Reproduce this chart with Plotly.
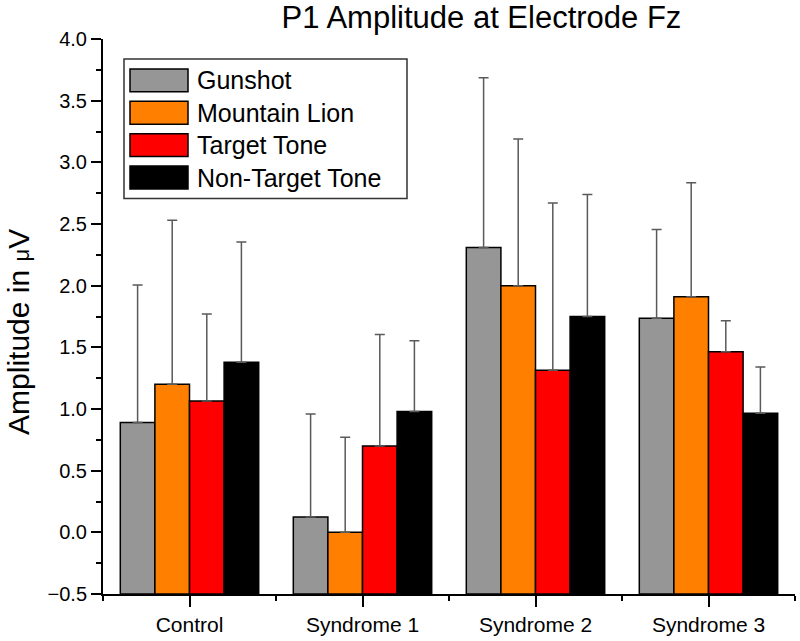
import plotly.graph_objects as go

# ---------------- data ----------------
categories = ["Control", "Syndrome 1", "Syndrome 2", "Syndrome 3"]
series_names = ["Gunshot", "Mountain Lion", "Target Tone", "Non-Target Tone"]
series_colors = ["#969696", "#FF8000", "#FF0000", "#000000"]

gunshot = [0.89, 0.125, 2.31, 1.735]
gunshot_err = [1.115, 0.835, 1.375, 0.72]
mountain_lion = [1.20, 0.0, 2.00, 1.91]
mountain_lion_err = [1.33, 0.77, 1.19, 0.925]
target_tone = [1.065, 0.70, 1.315, 1.465]
target_tone_err = [0.705, 0.905, 1.355, 0.25]
non_target_tone = [1.38, 0.98, 1.75, 0.965]
non_target_tone_err = [0.975, 0.573, 0.99, 0.376]

y_ticks = [-0.5, 0.0, 0.5, 1.0, 1.5, 2.0, 2.5, 3.0, 3.5, 4.0]

values = [gunshot, mountain_lion, target_tone, non_target_tone]
errors = [gunshot_err, mountain_lion_err, target_tone_err, non_target_tone_err]

BASE = y_ticks[0]  # bars rise from the bottom of the axis

# ---------------- layout constants ----------------
W, H = 800, 641
ML, MR, MT, MB = 103, 5, 39, 45
PW, PH = W - ML - MR, H - MT - MB
FONT = "Liberation Sans, Arial, Helvetica, sans-serif"


def px_x(px):
    """page pixel x -> paper x"""
    return (px - ML) / PW


def px_y(py):
    """page pixel y -> paper y"""
    return (H - MB - py) / PH


xs = list(range(len(categories)))

fig = go.Figure()
for name, color, vals, errs in zip(series_names, series_colors, values, errors):
    fig.add_trace(go.Bar(
        name=name,
        x=xs,
        y=[v - BASE for v in vals],
        base=BASE,
        marker=dict(color=color, line=dict(color="#000000", width=1.5)),
        error_y=dict(type="data", symmetric=False, array=errs,
                     arrayminus=[0] * len(errs),
                     color="#5a5a5a", thickness=1.5, width=5),
        showlegend=False,
    ))

# ---- custom legend (large swatches like the original) ----
shapes = []
annotations = []
box_l, box_r, box_t, box_b = 124, 407, 59, 199
shapes.append(dict(type="rect", xref="paper", yref="paper",
                   x0=px_x(box_l), x1=px_x(box_r), y0=px_y(box_b), y1=px_y(box_t),
                   line=dict(color="#333333", width=1.5), fillcolor="white", layer="above"))
row0, pitch = 80.5, 32.5
for i, (name, color) in enumerate(zip(series_names, series_colors)):
    cy = row0 + i * pitch
    shapes.append(dict(type="rect", xref="paper", yref="paper",
                       x0=px_x(130), x1=px_x(188), y0=px_y(cy + 11.5), y1=px_y(cy - 11.5),
                       line=dict(color="#000000", width=1.5), fillcolor=color, layer="above"))
    annotations.append(dict(text=name, xref="paper", yref="paper",
                            x=px_x(195), y=px_y(cy), xanchor="left", yanchor="middle",
                            showarrow=False, font=dict(family=FONT, size=25, color="#000000")))

# y-axis title
annotations.append(dict(text="Amplitude in <span style='font-size:22px'>μ</span>V",
                        xref="paper", yref="paper",
                        x=px_x(19), y=px_y(333), xanchor="center", yanchor="middle",
                        textangle=-90, showarrow=False,
                        font=dict(family=FONT, size=30, color="#000000")))

fig.update_layout(
    width=W, height=H,
    margin=dict(l=ML, r=MR, t=MT, b=MB),
    paper_bgcolor="white", plot_bgcolor="white",
    barmode="group", bargap=0.2, bargroupgap=0,
    font=dict(family=FONT, color="#000000"),
    title=dict(text="P1 Amplitude at Electrode Fz", x=481.5 / W, xanchor="center",
               xref="container", yref="container", y=1 - 17 / H, yanchor="middle",
               font=dict(family=FONT, size=31, color="#000000")),
    shapes=shapes,
    annotations=annotations,
    xaxis=dict(
        range=[-0.5, len(categories) - 0.5],
        tickmode="array", tickvals=xs, ticktext=categories,
        ticks="outside", ticklen=11, tickwidth=1.5, tickcolor="#000000",
        minor=dict(tickmode="linear", tick0=-0.5, dtick=1, ticks="outside",
                   ticklen=5, tickwidth=1.5, tickcolor="#000000"),
        showline=True, linecolor="#000000", linewidth=2,
        showgrid=False, zeroline=False,
        tickfont=dict(family=FONT, size=21, color="#000000"),
    ),
    yaxis=dict(
        range=[y_ticks[0], y_ticks[-1]],
        tickmode="array", tickvals=y_ticks, tickformat=".1f",
        ticks="outside", ticklen=10, tickwidth=1.5, tickcolor="#000000",
        minor=dict(tickmode="linear", tick0=0, dtick=0.25, ticks="outside",
                   ticklen=5, tickwidth=1.5, tickcolor="#000000"),
        showline=True, linecolor="#000000", linewidth=2,
        showgrid=False, zeroline=False,
        tickfont=dict(family=FONT, size=20, color="#000000"),
    ),
)

# remove the browser's default page margin so the figure fills the window exactly
fig.write_html(
    "out.html",
    config={"displayModeBar": False},
    post_script="document.body.style.margin='0';document.body.style.overflow='hidden';",
)
